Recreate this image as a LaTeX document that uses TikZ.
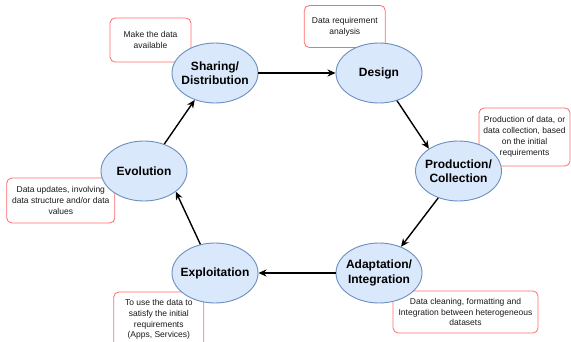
\documentclass[tikz,border=0pt]{standalone}
\usepackage{fontspec}
\setmainfont{Liberation Sans}
\usetikzlibrary{shapes.geometric,arrows.meta}
\definecolor{ellfill}{HTML}{DAE8FC}
\definecolor{elldraw}{HTML}{6C8EBF}
\definecolor{boxdraw}{HTML}{FF6B6B}
\definecolor{boxtext}{HTML}{1A1A1A}
\tikzset{
  phase/.style={ellipse, draw=elldraw, fill=ellfill, line width=0.9pt, minimum width=86pt, minimum height=60pt, inner sep=0pt},
  plbl/.style={font=\fontsize{12}{14.5}\selectfont\bfseries, align=center, text=black},
  note/.style={draw=boxdraw, fill=white, rounded corners=5pt, line width=0.8pt, align=center, font=\fontsize{8.5}{10.8}\selectfont, text=boxtext, inner sep=0pt},
  flow/.style={line width=1.4pt, -{Stealth[length=8pt,width=7pt,inset=2.5pt]}}
}
\begin{document}
\begin{tikzpicture}[x=1pt,y=-1pt]
\useasboundingbox (0,0) rectangle (571,342);
\clip (0,0) rectangle (571,342);
% notes
\node[note, minimum width=81pt, minimum height=44pt] (n1) at (150.5,40) {Make the data\\available};
\node[note, minimum width=81pt, minimum height=42pt] (n2) at (344.8,26.5) {Data requirement\\analysis};
\node[note, minimum width=91pt, minimum height=58pt] (n3) at (524.5,137) {Production of data, or\\data collection, based\\on the initial\\requirements};
\node[note, minimum width=108pt, minimum height=45pt] (n4) at (60.8,200.5) {Data updates, involving\\data structure and/or data\\values};
\node[note, minimum width=90pt, minimum height=55pt] (n5) at (158.8,319.5) {To use the data to\\satisfy the initial\\requirements\\(Apps, Services)};
\node[note, minimum width=145pt, minimum height=42pt] (n6) at (465.5,312) {Data cleaning, formatting and\\Integration between heterogeneous\\datasets};
% phases
\node[phase, label={[plbl]center:Sharing/\\Distribution}] (share) at (215,73) {};
\node[phase, label={[plbl]center:Design}] (design) at (379,73) {};
\node[phase, label={[plbl]center:Production/\\Collection}] (prod) at (458.5,171) {};
\node[phase, label={[plbl]center:Adaptation/\\Integration}] (adapt) at (379,273) {};
\node[phase, label={[plbl]center:Exploitation}] (exploit) at (215,273) {};
\node[phase, label={[plbl]center:Evolution}] (evol) at (144,171) {};
% flows
\draw[flow] (share.east) -- (design.west);
\draw[flow] (design.303) -- (prod.143);
\draw[flow] (prod.233) -- (adapt.50);
\draw[flow] (adapt.west) -- (exploit.east);
\draw[flow] (exploit.117) -- (evol.327);
\draw[flow] (evol.53) -- (share.233);
\end{tikzpicture}
\end{document}
